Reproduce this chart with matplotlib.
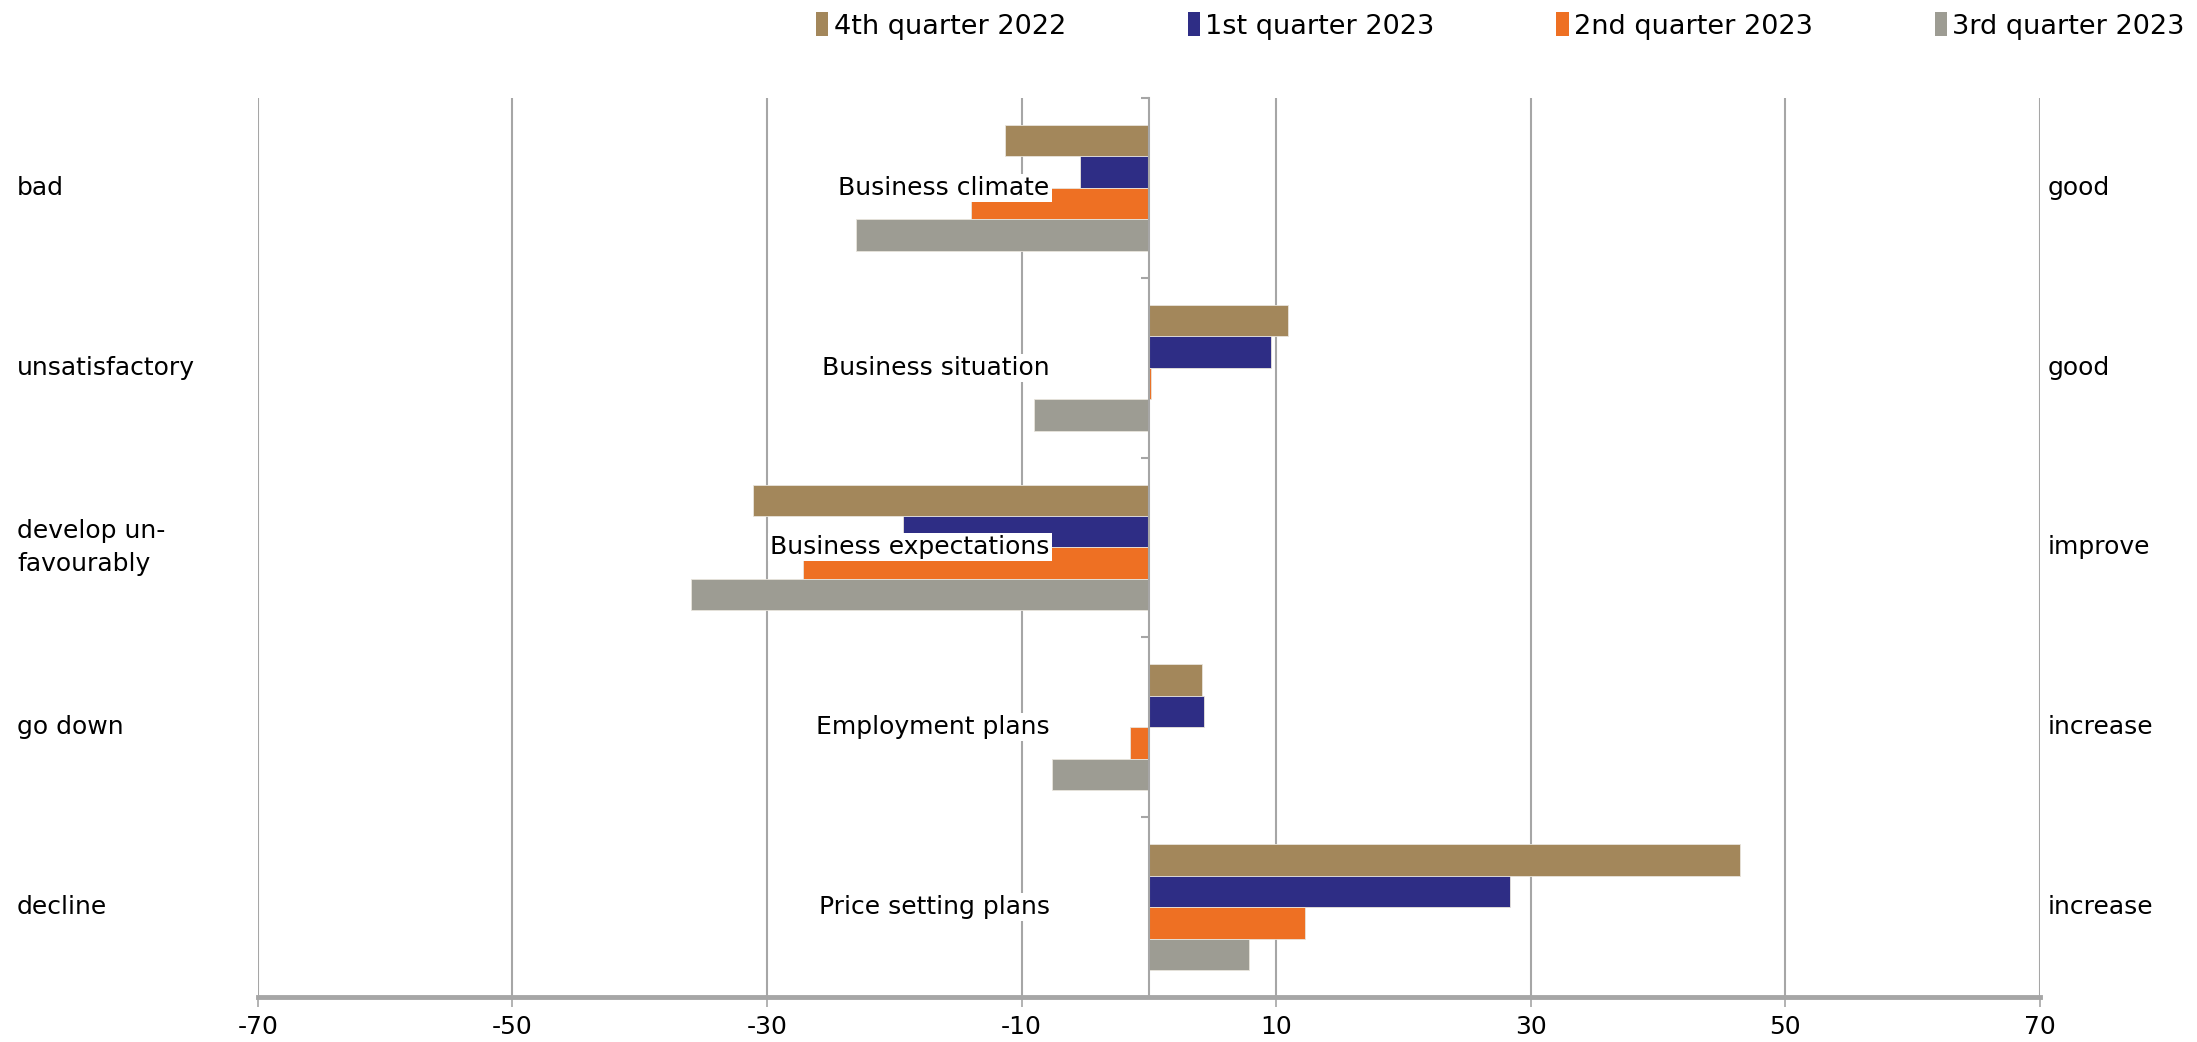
import matplotlib
matplotlib.use("Agg")
import matplotlib.pyplot as plt
import numpy as np
from matplotlib.transforms import blended_transform_factory
from matplotlib.patches import Patch

categories = ["Business climate", "Business situation", "Business expectations",
              "Employment plans", "Price setting plans"]
left_labels = ["bad", "unsatisfactory", "develop un-\nfavourably", "go down", "decline"]
right_labels = ["good", "good", "improve", "increase", "increase"]
series_names = ["4th quarter 2022", "1st quarter 2023", "2nd quarter 2023", "3rd quarter 2023"]
q4_2022 = [-11.3, 10.9, -31.1, 4.2, 46.4]
q1_2023 = [-5.4, 9.6, -19.3, 4.3, 28.4]
q2_2023 = [-14.0, 0.2, -27.2, -1.5, 12.3]
q3_2023 = [-23.0, -9.0, -36.0, -7.6, 7.9]
xticks = [-70, -50, -30, -10, 10, 30, 50, 70]

series = [q4_2022, q1_2023, q2_2023, q3_2023]
colors = ["#A3875B", "#2E2D85", "#EE7023", "#9D9C93"]

plt.rcParams['font.family'] = ['DejaVu Sans']
FS = 18

fig = plt.figure(figsize=(21.97, 10.42), dpi=100)
ax = fig.add_axes([0.1174, 0.0432, 0.8111, 0.8628])

n = len(categories)
y = np.arange(n)
h = 0.175
for i, (vals, c) in enumerate(zip(series, colors)):
    ax.barh(y - 1.5 * h + i * h, vals, height=h, color=c, zorder=3,
            edgecolor="#E8E4DC", linewidth=0.6)

ax.set_xlim(-70, 70)
ax.set_ylim(n - 0.5, -0.5)

ax.set_xticks(xticks)
ax.set_xticklabels([str(v) for v in xticks], fontsize=FS)
for v in xticks:
    ax.axvline(v, color="#A6A6A6", lw=1.5, zorder=1)

ax.spines['top'].set_visible(False)
ax.spines['right'].set_visible(False)
ax.spines['left'].set_position(('data', 0))
ax.spines['left'].set_color("#A6A6A6")
ax.spines['left'].set_linewidth(1.5)
ax.spines['left'].set_zorder(4)
ax.spines['bottom'].set_color("#A6A6A6")
ax.spines['bottom'].set_linewidth(3.5)
ax.spines['bottom'].set_zorder(5)

ax.set_yticks(np.arange(-0.5, n, 1.0))
ax.set_yticklabels([])
ax.tick_params(axis='y', direction='out', length=6, width=1.5, color="#A6A6A6")
ax.tick_params(axis='x', direction='out', length=7, width=1.2, color="#A6A6A6", pad=6)

trans = blended_transform_factory(fig.transFigure, ax.transData)
for i in range(n):
    ax.text(-7.8, y[i], categories[i], ha='right', va='center', fontsize=FS, zorder=6,
            bbox=dict(facecolor='white', edgecolor='none', pad=1.5))
    ax.text(0.0077, y[i], left_labels[i], transform=trans, ha='left', va='center',
            fontsize=FS, linespacing=1.5)
    ax.text(0.932, y[i], right_labels[i], transform=trans, ha='left', va='center',
            fontsize=FS)

handles = [Patch(facecolor=c, edgecolor='none') for c in colors]
fig.legend(handles, series_names, ncol=4, loc='upper right', bbox_to_anchor=(1.0, 1.0),
           frameon=False, fontsize=19.5, handlelength=0.45, handleheight=1.0,
           handletextpad=0.2, columnspacing=4.5, borderaxespad=0.05)

fig.savefig("out.png", dpi=100, facecolor='white')
